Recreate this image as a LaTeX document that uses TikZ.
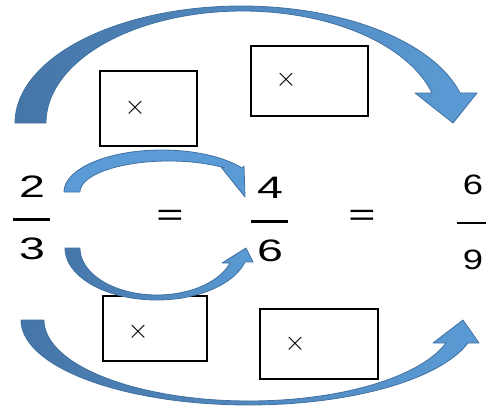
\documentclass[tikz,border=0pt]{standalone}
\usepackage{fontspec}
\usepackage{graphicx}
\setmainfont{Liberation Sans}
\definecolor{ltblue}{RGB}{91,155,213}
\definecolor{dkblue}{RGB}{70,118,168}
\definecolor{arrowedge}{RGB}{65,113,160}
\newcommand{\bigcross}{\scalebox{2.7}{$\times$}}
\begin{document}
\begin{tikzpicture}[x=1pt,y=-1pt,
  arrowshape/.style={draw=arrowedge, line width=0.8pt, line join=round},
  box/.style={draw=black, line width=1.8pt, inner sep=0pt},
  num/.style={font=\fontsize{31}{31}\selectfont, inner sep=0pt},
  smallnum/.style={font=\fontsize{28}{28}\selectfont, inner sep=0pt},
  cross/.style={font=\normalsize, inner sep=0pt},
  bar/.style={line width=3pt}]
\useasboundingbox (0,0) rectangle (486,409);

% boxes
\node[box, minimum width=97pt, minimum height=75pt] (b1) at (148.5,108.5) {};
\node[box, minimum width=117pt, minimum height=70pt] (b2) at (309.5,81) {};
\node[box, minimum width=104pt, minimum height=65pt] (b3) at (155,328.5) {};
\node[box, minimum width=118pt, minimum height=70pt] (b4) at (319,344) {};
\node[cross] (x1) at (135,108) {\bigcross};
\node[cross] (x2) at (286,80) {\bigcross};
\node[cross] (x3) at (138,332) {\bigcross};
\node[cross] (x4) at (295,344) {\bigcross};

% big top arrow
\shadedraw[arrowshape, left color=dkblue, right color=ltblue]
  plot[domain=180:345.1, samples=90, variable=\t] ({241.3+226.3*cos(\t)},{123+117*sin(\t)})
  -- (477,93) -- (453,123) -- (415,93) -- (432,93)
  -- plot[domain=344.5:180, samples=90, variable=\t] ({242.6+196.6*cos(\t)},{123+112*sin(\t)})
  -- cycle;

% big bottom arrow
\shadedraw[arrowshape, left color=dkblue, right color=ltblue]
  plot[domain=180:15.7, samples=90, variable=\t] ({248.7+227.7*cos(\t)},{320+85*sin(\t)})
  -- (479,343) -- (463,320) -- (433,343) -- (446,343)
  -- plot[domain=16.5:180, samples=90, variable=\t] ({249.2+205.2*cos(\t)},{320+81*sin(\t)})
  -- cycle;

% small top arrow
\filldraw[arrowshape, fill=ltblue]
  plot[domain=180:325.2, samples=60, variable=\t] ({161.8+97.8*cos(\t)},{192+42*sin(\t)})
  -- (244,166) -- (245,197) -- (221,167) -- (225,168)
  -- plot[domain=309.3:180, samples=60, variable=\t] ({168.8+88.8*cos(\t)},{192+31*sin(\t)})
  -- cycle;

% small bottom arrow
\shadedraw[arrowshape, left color=dkblue, right color=ltblue]
  plot[domain=180:15.6, samples=60, variable=\t] ({156.7+91.7*cos(\t)},{248+52*sin(\t)})
  -- (253,262) -- (246,248) -- (222,263) -- (230,263)
  -- plot[domain=18.6:180, samples=60, variable=\t] ({157+77*cos(\t)},{248+47*sin(\t)})
  -- cycle;

% fractions
\node[num] (n2) at (32,187) {\scalebox{1.5}[1]{2}};
\node[num] (d3) at (32,249) {\scalebox{1.5}[1]{3}};
\draw[bar] (13,219) coordinate (a1) -- (50,219) coordinate (a2);
\node[num] (n4) at (270,188) {\scalebox{1.5}[1]{4}};
\node[num] (d6) at (270,251) {\scalebox{1.5}[1]{6}};
\draw[bar] (251,221) coordinate (c1) -- (288,221) coordinate (c2);
\node[smallnum] (n6) at (473,185) {\scalebox{1.3}[1]{6}};
\node[smallnum] (d9) at (473,260) {\scalebox{1.3}[1]{9}};
\draw[bar, line width=2.5pt] (457,223) coordinate (e1) -- (486,223) coordinate (e2);
\node[num] (eq1) at (170,218) {\scalebox{1.5}[1]{=}};
\node[num] (eq2) at (362,218) {\scalebox{1.5}[1]{=}};
\end{tikzpicture}
\end{document}
